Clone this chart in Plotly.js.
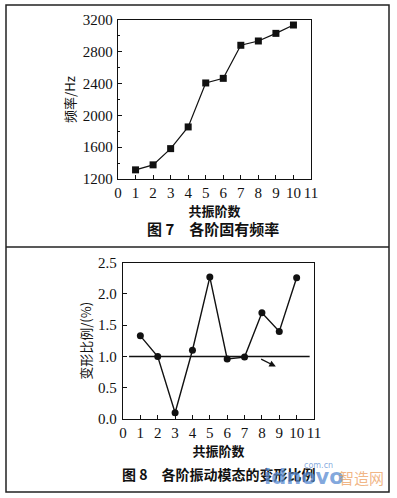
<!DOCTYPE html>
<html>
<head>
<meta charset="utf-8">
<script src="https://cdn.plot.ly/plotly-3.0.1.min.js"></script>
<style>html,body{margin:0;padding:0;background:#fff;}#chart{width:397px;height:498px;}</style>
</head>
<body>
<div id="chart"></div>
<script>
// Figure 7: natural frequency of each mode
const modeOrder = [1, 2, 3, 4, 5, 6, 7, 8, 9, 10];
const frequencyHz = [1315, 1378, 1582, 1855, 2408, 2466, 2882, 2936, 3032, 3137];
// Figure 8: deformation ratio of each mode
const deformRatio = [1.33, 1.00, 0.10, 1.10, 2.27, 0.96, 0.99, 1.70, 1.40, 2.26];
const refLineX = [0.35, 10.75];
const refLineY = [1.0, 1.0];
const xTickVals = [0, 1, 2, 3, 4, 5, 6, 7, 8, 9, 10, 11];
const freqTickVals = [1200, 1600, 2000, 2400, 2800, 3200];
const ratioTickVals = [0.0, 0.5, 1.0, 1.5, 2.0, 2.5];
const ratioTickText = ["0.0", "0.5", "1.0", "1.5", "2.0", "2.5"];

const W = 397, H = 498;
const px = v => v / W;
const py = v => 1 - v / H;

const serif = "'Liberation Serif', 'Times New Roman', 'DejaVu Serif', serif";
const cjk = "Noto Sans CJK SC";
const ink = "#111";

const traces = [
  {x: modeOrder, y: frequencyHz, type: "scatter", mode: "lines+markers",
   xaxis: "x", yaxis: "y",
   line: {color: ink, width: 1.2},
   marker: {symbol: "square", size: 7, color: ink}},
  {x: refLineX, y: refLineY, type: "scatter", mode: "lines",
   xaxis: "x2", yaxis: "y2", line: {color: ink, width: 1.5}},
  {x: modeOrder, y: deformRatio, type: "scatter", mode: "lines+markers",
   xaxis: "x2", yaxis: "y2",
   line: {color: ink, width: 1.4},
   marker: {symbol: "circle", size: 7, color: ink}}
];

const axisBase = {
  showgrid: false, zeroline: false, showline: true, linecolor: ink, linewidth: 1.2,
  mirror: true, ticks: "inside", ticklen: 4, tickcolor: ink, automargin: false,
  tickfont: {family: serif, size: 15, color: ink}
};

const layout = {
  width: W, height: H,
  margin: {l: 0, r: 0, t: 0, b: 0},
  font: {family: serif, color: ink},
  paper_bgcolor: "#fff", plot_bgcolor: "#fff",
  showlegend: false,
  xaxis: Object.assign({}, axisBase, {
    domain: [px(118), px(311)], range: [0, 11], tickvals: xTickVals,
    anchor: "y",
    title: {text: "共振阶数", font: {family: cjk, size: 13, color: ink, weight: "bold"}, standoff: 6}
  }),
  yaxis: Object.assign({}, axisBase, {
    domain: [py(179), py(20)], range: [1200, 3200], tickvals: freqTickVals,
    anchor: "x", ticklabelstandoff: 1,
    minor: {dtick: 200, tick0: 1200, ticks: "inside", ticklen: 2, tickcolor: ink},
    title: {text: "频率/Hz", font: {family: cjk, size: 13, color: ink}, standoff: 4}
  }),
  xaxis2: Object.assign({}, axisBase, {
    domain: [px(123), px(314)], range: [0, 11], tickvals: xTickVals,
    anchor: "y2",
    title: {text: "共振阶数", font: {family: cjk, size: 13, color: ink, weight: "bold"}, standoff: 6}
  }),
  yaxis2: Object.assign({}, axisBase, {
    domain: [py(419), py(262.7)], range: [0, 2.5], tickvals: ratioTickVals, ticktext: ratioTickText,
    anchor: "x2", ticklabelstandoff: 2,
    title: {text: "变形比例/(%)", font: {family: cjk, size: 13, color: ink}, standoff: 3}
  }),
  shapes: [
    {type: "rect", xref: "paper", yref: "paper", x0: px(6), x1: px(389), y0: py(492), y1: py(5),
     line: {color: "#222", width: 1.5}},
    {type: "line", xref: "paper", yref: "paper", x0: px(6), x1: px(389), y0: py(247), y1: py(247),
     line: {color: "#222", width: 1.5}}
  ],
  annotations: [
    {xref: "paper", yref: "paper", x: px(145), y: py(229), xanchor: "left", yanchor: "middle", showarrow: false,
     text: "<b>图 7　各阶固有频率</b>", font: {family: cjk, size: 15, color: ink}},
    {xref: "paper", yref: "paper", x: px(120), y: py(474), xanchor: "left", yanchor: "middle", showarrow: false,
     text: "<b>图 8　各阶振动模态的变形比例</b>", font: {family: cjk, size: 14, color: ink}},
    {xref: "x2", yref: "y2", axref: "x2", ayref: "y2", x: 8.8, y: 0.84, ax: 7.87, ay: 0.97,
     showarrow: true, arrowhead: 2, arrowsize: 1, arrowwidth: 1.3, arrowcolor: ink, text: ""},
    // watermark
    {xref: "paper", yref: "paper", x: px(262), y: py(477), xanchor: "left", yanchor: "middle", showarrow: false,
     text: "<b>idnovo</b>", font: {family: "DejaVu Sans", size: 21, color: "rgba(90,140,210,0.75)"}},
    {xref: "paper", yref: "paper", x: px(302), y: py(465), xanchor: "left", yanchor: "middle", showarrow: false,
     text: "com.cn", font: {family: "DejaVu Sans", size: 8, color: "rgba(90,140,210,0.75)"}},
    {xref: "paper", yref: "paper", x: px(337), y: py(477), xanchor: "left", yanchor: "middle", showarrow: false,
     text: "智造网", font: {family: cjk, size: 15, color: "rgba(235,150,80,0.7)"}}
  ]
};

Plotly.newPlot("chart", traces, layout, {staticPlot: true, displayModeBar: false});
</script>
</body>
</html>
